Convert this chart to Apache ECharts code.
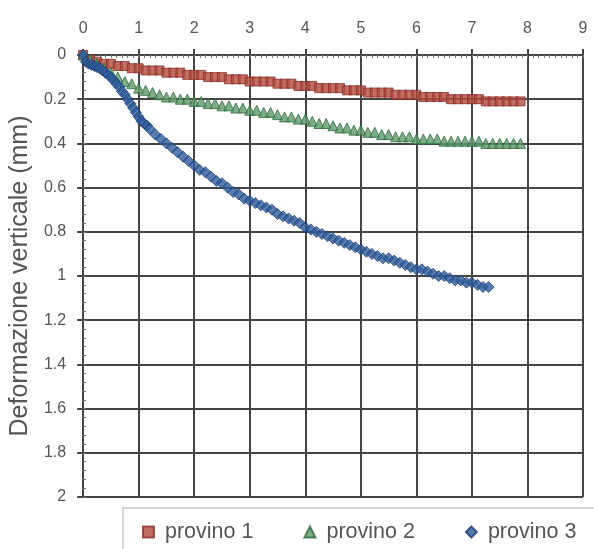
<!DOCTYPE html>
<html>
<head>
<meta charset="utf-8">
<script src="https://cdn.jsdelivr.net/npm/echarts@6/dist/echarts.min.js"></script>
<style>html,body{margin:0;padding:0;background:#fff}#c{width:594px;height:549px}</style>
</head>
<body>
<div id="c"></div>
<script>
const seriesNames = ['provino 1', 'provino 2', 'provino 3'];
const xTicks = [0,1,2,3,4,5,6,7,8,9];
const yTicks = [0,0.2,0.4,0.6,0.8,1,1.2,1.4,1.6,1.8,2];

// provino 1 & 2 sampled every 0.125 from 0 to 7.875
const x12 = [0,0.125,0.25,0.375,0.5,0.625,0.75,0.875,1,1.125,1.25,1.375,1.5,1.625,1.75,1.875,2,2.125,2.25,2.375,2.5,2.625,2.75,2.875,3,3.125,3.25,3.375,3.5,3.625,3.75,3.875,4,4.125,4.25,4.375,4.5,4.625,4.75,4.875,5,5.125,5.25,5.375,5.5,5.625,5.75,5.875,6,6.125,6.25,6.375,6.5,6.625,6.75,6.875,7,7.125,7.25,7.375,7.5,7.625,7.75,7.875];
const provino1 = [0.00,0.02,0.03,0.04,0.04,0.05,0.05,0.06,0.06,0.07,0.07,0.07,0.08,0.08,0.08,0.09,0.09,0.09,0.10,0.10,0.10,0.11,0.11,0.11,0.12,0.12,0.12,0.12,0.13,0.13,0.13,0.14,0.14,0.14,0.15,0.15,0.15,0.15,0.16,0.16,0.16,0.17,0.17,0.17,0.17,0.18,0.18,0.18,0.18,0.19,0.19,0.19,0.19,0.20,0.20,0.20,0.20,0.20,0.21,0.21,0.21,0.21,0.21,0.21];
const provino2 = [0.00,0.02,0.04,0.06,0.08,0.10,0.12,0.13,0.15,0.16,0.17,0.18,0.19,0.19,0.20,0.20,0.21,0.21,0.22,0.22,0.23,0.23,0.24,0.24,0.25,0.25,0.26,0.26,0.27,0.28,0.28,0.29,0.29,0.30,0.31,0.31,0.32,0.33,0.33,0.34,0.34,0.35,0.35,0.36,0.36,0.37,0.37,0.37,0.38,0.38,0.38,0.38,0.39,0.39,0.39,0.39,0.39,0.39,0.40,0.40,0.40,0.40,0.40,0.40];

// provino 3 (denser where it is steep)
const x3 = [0,0.05,0.1,0.15,0.2,0.25,0.3,0.35,0.4,0.45,0.5,0.55,0.6,0.65,0.7,0.75,0.8,0.85,0.9,0.95,1.0,1.05,1.1,1.15,1.2,1.3,1.4,1.5,1.6,1.7,1.8,1.9,2.0,2.1,2.2,2.3,2.4,2.5,2.6,2.7,2.8,2.9,3.0,3.1,3.2,3.3,3.4,3.5,3.6,3.7,3.8,3.9,4.0,4.1,4.2,4.3,4.4,4.5,4.6,4.7,4.8,4.9,5.0,5.1,5.2,5.3,5.4,5.5,5.6,5.7,5.8,5.9,6.0,6.1,6.2,6.3,6.4,6.5,6.6,6.7,6.8,6.9,7.0,7.1,7.2,7.3];
const provino3 = [0.00,0.03,0.04,0.045,0.05,0.055,0.06,0.07,0.08,0.09,0.10,0.115,0.13,0.145,0.165,0.18,0.20,0.22,0.24,0.26,0.28,0.30,0.31,0.32,0.335,0.36,0.38,0.40,0.42,0.44,0.46,0.48,0.50,0.52,0.53,0.55,0.57,0.58,0.60,0.62,0.63,0.65,0.66,0.67,0.68,0.69,0.70,0.72,0.73,0.74,0.75,0.76,0.78,0.79,0.80,0.81,0.82,0.83,0.84,0.85,0.86,0.87,0.88,0.89,0.90,0.91,0.92,0.92,0.93,0.94,0.95,0.96,0.97,0.97,0.98,0.99,1.00,1.00,1.01,1.02,1.02,1.03,1.03,1.04,1.05,1.05];

const pairs = (xs, ys) => xs.map((x, i) => [x, ys[i]]);

const gridColor = '#454545';
const font = 'Liberation Sans, Arial, sans-serif';
const chart = echarts.init(document.getElementById('c'), null, {renderer: 'canvas'});
chart.setOption({
  animation: false,
  backgroundColor: '#fff',
  grid: {left: 82, top: 55, right: 11, bottom: 52, containLabel: false},
  graphic: [{
    type: 'rect', z: -1,
    shape: {x: 123, y: 508, width: 480, height: 60},
    style: {fill: '#fff', stroke: '#c8c8c8', lineWidth: 1.5}
  }],
  legend: {
    data: seriesNames,
    left: 137, top: 516,
    itemWidth: 11, itemHeight: 11, itemGap: 50,
    textStyle: {fontFamily: font, fontSize: 21.5, color: '#555', padding: [0,0,0,6]}
  },
  xAxis: [{
    type: 'value', position: 'top', min: 0, max: 9, interval: 1,
    axisLine: {show: true, onZero: false, lineStyle: {color: gridColor, width: 2}},
    axisTick: {show: true, inside: false, length: 6, lineStyle: {color: gridColor, width: 2}},
    axisLabel: {color: '#555', fontSize: 16, fontFamily: font, margin: 18},
    splitLine: {show: true, lineStyle: {color: gridColor, width: 2}}
  }, {
    type: 'value', position: 'top', min: 0, max: 9, interval: 1,
    axisLine: {show: false, onZero: false},
    axisTick: {show: true, inside: true, length: 3, lineStyle: {color: '#777'}},
    minorTick: {show: true, splitNumber: 10, length: 3, lineStyle: {color: '#777'}},
    axisLabel: {show: false},
    splitLine: {show: false}
  }],
  yAxis: [{
    type: 'value', inverse: true, min: 0, max: 2, interval: 0.2,
    name: 'Deformazione verticale (mm)', nameLocation: 'middle', nameGap: 44,
    nameTextStyle: {fontSize: 25, color: '#555', fontFamily: font},
    axisLine: {show: true, onZero: false, lineStyle: {color: gridColor, width: 2}},
    axisTick: {show: true, inside: false, length: 6, lineStyle: {color: gridColor, width: 2}},
    axisLabel: {color: '#555', fontSize: 16, fontFamily: font, margin: 17},
    splitLine: {show: true, lineStyle: {color: gridColor, width: 2}}
  }, {
    type: 'value', inverse: true, min: 0, max: 2, interval: 0.2, position: 'left',
    axisLine: {show: false, onZero: false},
    axisTick: {show: true, inside: true, length: 3, lineStyle: {color: '#777'}},
    minorTick: {show: true, splitNumber: 5, length: 3, lineStyle: {color: '#777'}},
    axisLabel: {show: false},
    splitLine: {show: false}
  }],
  series: [{
    name: seriesNames[0], type: 'scatter', xAxisIndex: 0, yAxisIndex: 0,
    symbol: 'rect', symbolSize: 9,
    itemStyle: {color: '#b24a3d', borderColor: '#8a3028', borderWidth: 1},
    data: pairs(x12, provino1)
  }, {
    name: seriesNames[1], type: 'scatter', xAxisIndex: 0, yAxisIndex: 0,
    symbol: 'triangle', symbolSize: 10,
    itemStyle: {color: '#5d9a6a', borderColor: '#2f6a3e', borderWidth: 1},
    data: pairs(x12, provino2)
  }, {
    name: seriesNames[2], type: 'scatter', xAxisIndex: 0, yAxisIndex: 0,
    symbol: 'diamond', symbolSize: 11,
    itemStyle: {color: '#2e5b9c', borderColor: '#1e3f72', borderWidth: 1},
    data: pairs(x3, provino3)
  }]
});
</script>
</body>
</html>
